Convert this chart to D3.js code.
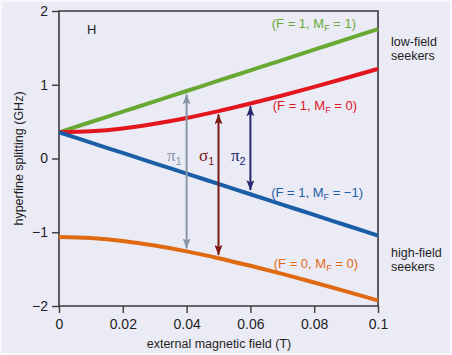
<!DOCTYPE html>
<html><head><meta charset="utf-8">
<script src="https://cdn.jsdelivr.net/npm/d3@7"></script>
<style>
html,body{margin:0;padding:0;background:#fff;}
svg{display:block;}
text{font-family:"Liberation Sans",Arial,sans-serif;}
</style></head>
<body><svg id="c" width="452" height="355"></svg>
<script>
// Data
const fieldT = [0,0.01,0.02,0.03,0.04,0.05,0.06,0.07,0.08,0.09,0.1];
const f1m1  = [0.355,0.495,0.635,0.775,0.915,1.055,1.195,1.335,1.475,1.615,1.755];
const f1m0  = [0.355,0.369,0.408,0.470,0.549,0.642,0.745,0.855,0.971,1.091,1.215];
const f1mm1 = [0.355,0.215,0.075,-0.065,-0.205,-0.345,-0.485,-0.625,-0.765,-0.905,-1.045];
const f0m0  = [-1.065,-1.079,-1.118,-1.180,-1.259,-1.352,-1.455,-1.565,-1.681,-1.801,-1.925];
const seriesNames = ["(F = 1, M_F = 1)","(F = 1, M_F = 0)","(F = 1, M_F = −1)","(F = 0, M_F = 0)"];
const seriesColors = ["#6aa834","#e3151d","#1b5ea8","#e06a12"];
const transNames = ["π","σ","π"];
const transSub = ["1","1","2"];
const transB = [0.04,0.05,0.06];
const transLow = [-1.22,-1.31,-0.43];
const transHigh = [0.87,0.60,0.71];
const transColors = ["#8795a8","#7a1812","#27286e"];
const xTicks = [0,0.02,0.04,0.06,0.08,0.1];
const xTickLabels = ["0","0.02","0.04","0.06","0.08","0.1"];
const yTicks = [-2,-1,0,1,2];
const yTickLabels = ["−2","−1","0","1","2"];

const svg = d3.select("#c");
svg.append("rect").attr("x",0).attr("y",0).attr("width",452).attr("height",355).attr("fill","#f6f6fb");
svg.append("rect").attr("x",2).attr("y",2).attr("width",448).attr("height",351).attr("fill","#ebebf6");

const x = d3.scaleLinear().domain([0,0.1]).range([59,378]);
const y = d3.scaleLinear().domain([-2,2]).range([306,11]);

const defs = svg.append("defs");
transColors.forEach((c,i)=>{
  defs.append("marker").attr("id","ah"+i).attr("viewBox","0 0 10 8")
    .attr("refX",10).attr("refY",4).attr("markerWidth",10).attr("markerHeight",8)
    .attr("markerUnits","userSpaceOnUse").attr("orient","auto-start-reverse")
    .append("path").attr("d","M0,0 L10,4 L0,8 L2,4 Z").attr("fill",c);
});

// frame
const frameColor = "#3a3a3a";
svg.append("path").attr("d",`M${x(0)},${y(-2)}V${y(2)}H${x(0.1)}V${y(-2)}H${x(0)}`)
  .attr("fill","none").attr("stroke",frameColor).attr("stroke-width",1.6);

// axes
const xAxis = svg.append("g").attr("transform",`translate(0,${y(-2)})`)
  .call(d3.axisBottom(x).tickValues(xTicks).tickFormat((d,i)=>xTickLabels[i]).tickSize(7).tickPadding(6));
const yAxis = svg.append("g").attr("transform",`translate(${x(0)},0)`)
  .call(d3.axisLeft(y).tickValues(yTicks).tickFormat((d,i)=>yTickLabels[i]).tickSize(7).tickPadding(4));
[xAxis,yAxis].forEach(g=>{
  g.select(".domain").remove();
  g.selectAll("line").attr("stroke",frameColor).attr("stroke-width",1.4);
  g.selectAll("text").attr("fill","#1e1e1e").style("font-size","14px").style("font-family","'Liberation Sans',Arial,sans-serif");
});

svg.append("text").attr("x",219).attr("y",348).attr("text-anchor","middle")
  .attr("fill","#1e1e1e").style("font-size","12.5px").text("external magnetic field (T)");
svg.append("text").attr("transform",`translate(23,${y(0)}) rotate(-90)`).attr("text-anchor","middle")
  .attr("fill","#1e1e1e").style("font-size","12.5px").text("hyperfine splitting (GHz)");

// lines
const allSeries = [f1m1,f1m0,f1mm1,f0m0];
const line = d3.line().x(d=>x(d[0])).y(d=>y(d[1])).curve(d3.curveMonotoneX);
allSeries.forEach((s,i)=>{
  svg.append("path").datum(fieldT.map((b,j)=>[b,s[j]]))
    .attr("d",line).attr("fill","none").attr("stroke",seriesColors[i]).attr("stroke-width",4);
});

// transitions
transB.forEach((b,i)=>{
  svg.append("line").attr("x1",x(b)).attr("x2",x(b)).attr("y1",y(transLow[i])).attr("y2",y(transHigh[i]))
    .attr("stroke",transColors[i]).attr("stroke-width",2)
    .attr("marker-start","url(#ah"+i+")").attr("marker-end","url(#ah"+i+")");
});
const transLabelX = [167,199,231];
transNames.forEach((n,i)=>{
  const t = svg.append("text").attr("x",transLabelX[i]).attr("y",161).attr("fill",transColors[i])
    .style("font-family","'Liberation Serif','Times New Roman',serif").style("font-size","17px");
  t.append("tspan").text(n);
  t.append("tspan").attr("dy",4).style("font-size","11px").style("font-family","'Liberation Sans',Arial,sans-serif").text(transSub[i]);
});

// series labels
const labelPos = [[356,28],[357,110],[363,197],[358,268]];
seriesNames.forEach((nm,i)=>{
  const parts = nm.split("M_F");
  const t = svg.append("text").attr("x",labelPos[i][0]).attr("y",labelPos[i][1]).attr("text-anchor","end")
    .attr("fill",seriesColors[i]).style("font-size","13px");
  t.append("tspan").text(parts[0]+"M");
  t.append("tspan").attr("dy",3).style("font-size","9px").text("F");
  t.append("tspan").attr("dy",-3).text(parts[1]);
});

svg.append("text").attr("x",87).attr("y",34).attr("fill","#1e1e1e").style("font-size","13px").text("H");
[["low-field",46],["seekers",60],["high-field",257],["seekers",271]].forEach(d=>{
  svg.append("text").attr("x",391).attr("y",d[1]).attr("fill","#1e1e1e").style("font-size","12.5px").text(d[0]);
});
</script></body></html>
